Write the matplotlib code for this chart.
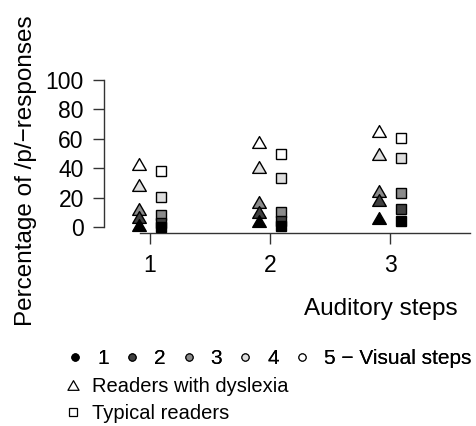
import matplotlib
matplotlib.use("Agg")
import matplotlib.pyplot as plt
from matplotlib.lines import Line2D
from matplotlib.path import Path

plt.rcParams["font.family"] = ["Liberation Sans", "DejaVu Sans"]

# data (percentage of /p/-responses)
auditory_steps = [1, 2, 3]
visual_steps = ["1", "2", "3", "4", "5 \u2212 Visual steps"]
step_colors = ["#000000", "#404040", "#8a8a8a", "#dedede", "#ffffff"]

dyslexia = [
    [1.6, 4.3, 6.5],
    [7.2, 10.6, 18.5],
    [12.2, 17.4, 24.6],
    [28.7, 40.7, 49.5],
    [43.0, 58.1, 65.4],
]
typical = [
    [0.4, 1.1, 4.3],
    [3.1, 4.3, 12.4],
    [8.4, 10.6, 23.1],
    [20.4, 33.2, 46.8],
    [38.4, 49.5, 60.8],
]
group_labels = ["Readers with dyslexia", "Typical readers"]

# equilateral-ish triangle centred on its bounding box, closed outline
tri = Path([(-1, -0.866), (1, -0.866), (0, 0.866), (-1, -0.866)], closed=True)
offset = 0.09

fig = plt.figure(figsize=(4.77, 4.26), dpi=100)
ax = fig.add_axes([104 / 477, 1 - 233.3 / 426, 366 / 477, 153.3 / 426])

for i in range(len(visual_steps) - 1, -1, -1):
    xs = [a - offset for a in auditory_steps]
    ax.plot(xs, dyslexia[i], linestyle="none", marker=tri, ms=9.8,
            mfc=step_colors[i], mec="black", mew=1.0, zorder=10 - i, clip_on=False)
    xs = [a + offset for a in auditory_steps]
    ax.plot(xs, typical[i], linestyle="none", marker="s", ms=6.8,
            mfc=step_colors[i], mec="black", mew=1.0, zorder=10 - i, clip_on=False)

ax.set_xlim(1 - 46 / 120, 3 + 80 / 120)
ax.set_ylim(-4.1, 100)
for side in ["top", "right"]:
    ax.spines[side].set_visible(False)
ax.spines["left"].set_bounds(0, 100)
ax.spines["bottom"].set_bounds(1 - 10 / 120, 3 + 80 / 120)
for side in ["left", "bottom"]:
    ax.spines[side].set_linewidth(1.0)
    ax.spines[side].set_color("#333333")
ax.set_xticks(auditory_steps)
ax.set_yticks([0, 20, 40, 60, 80, 100])
ax.tick_params(axis="both", direction="out", length=8, width=1.0, color="#333333",
               labelsize=16.5)
ax.tick_params(axis="y", pad=6.5)
ax.tick_params(axis="x", pad=7)

fig.text(26 / 477, 1 - 171 / 426, "Percentage of /p/\u2212responses", rotation=90,
         ha="center", va="center", fontsize=17.5)
fig.text(381 / 477, 1 - 309 / 426, "Auditory steps", ha="center", va="center",
         fontsize=17.5)

# legend: visual steps row
step_handles = [Line2D([], [], linestyle="none", marker="o", ms=5.2, mfc=c,
                       mec="black", mew=0.8) for c in step_colors]
leg1 = fig.legend(step_handles, visual_steps, loc="center left",
                  bbox_to_anchor=((75 - 8.3) / 477, 1 - 359 / 426), ncol=5,
                  frameon=False, fontsize=15, borderpad=0, borderaxespad=0,
                  handlelength=0.8, handletextpad=0.65, columnspacing=0.72)

group_handles = [
    Line2D([], [], linestyle="none", marker=tri, ms=8, mfc="white", mec="black", mew=0.9),
    Line2D([], [], linestyle="none", marker="s", ms=5.2, mfc="white", mec="black", mew=0.9),
]
leg2 = fig.legend(group_handles, group_labels, loc="upper left",
                  bbox_to_anchor=((73 - 7.8) / 477, 1 - 377 / 426), frameon=False,
                  fontsize=14.5, borderpad=0, borderaxespad=0, handlelength=0.8,
                  handletextpad=0.55, labelspacing=0.4)
fig.add_artist(leg1)

fig.savefig("out.png", dpi=100)
